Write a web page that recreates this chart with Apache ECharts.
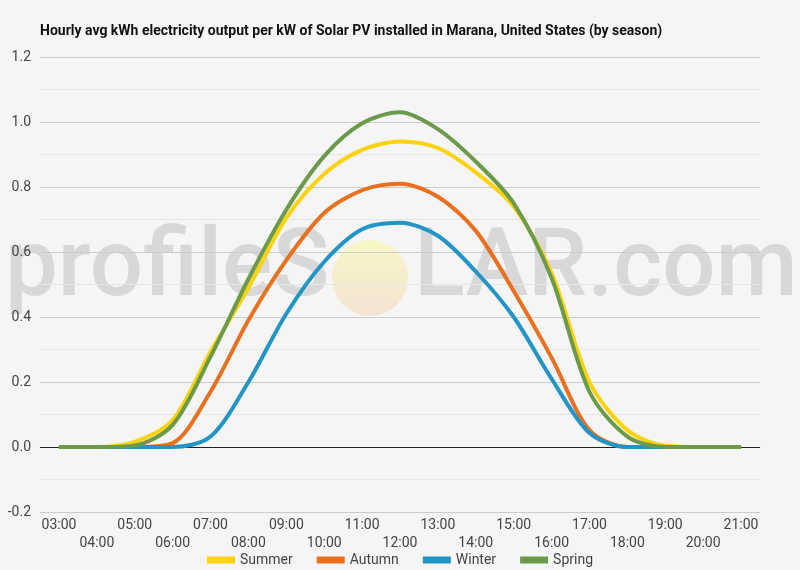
<!DOCTYPE html>
<html>
<head>
<meta charset="utf-8">
<script src="https://cdn.jsdelivr.net/npm/echarts@6/dist/echarts.min.js"></script>
<style>
html, body { margin: 0; padding: 0; background: #f5f5f5; }
#chart { width: 800px; height: 570px; }
</style>
</head>
<body>
<div id="chart"></div>
<script>
// 小时
var hours = ['03:00', '04:00', '05:00', '06:00', '07:00', '08:00', '09:00', '10:00', '11:00', '12:00',
    '13:00', '14:00', '15:00', '16:00', '17:00', '18:00', '19:00', '20:00', '21:00'];
// 各季节每小时平均发电量 (kWh / kW)
var summer = [0, 0, 0.016, 0.083, 0.293, 0.49, 0.705, 0.84, 0.914, 0.94, 0.92, 0.845, 0.74, 0.535, 0.20, 0.052, 0.004, 0, 0];
var autumn = [0, 0, 0, 0.012, 0.17, 0.39, 0.575, 0.72, 0.79, 0.81, 0.77, 0.665, 0.48, 0.275, 0.052, 0, 0, 0, 0];
var winter = [0, 0, 0, 0, 0.032, 0.20, 0.41, 0.57, 0.67, 0.69, 0.65, 0.54, 0.40, 0.21, 0.043, 0, 0, 0, 0];
var spring = [0, 0, 0.005, 0.068, 0.278, 0.517, 0.73, 0.895, 0.996, 1.03, 0.978, 0.878, 0.75, 0.52, 0.17, 0.032, 0, 0, 0];

var seasonNames = ['Summer', 'Autumn', 'Winter', 'Spring'];
var seasonData = [summer, autumn, winter, spring];
var seasonColors = ['#fcd20c', '#e8711f', '#2394c6', '#6b9a4a'];

var chartDom = document.getElementById('chart');
var chart = echarts.init(chartDom);

var series = seasonNames.map(function (name, i) {
    return {
        name: name,
        type: 'line',
        smooth: 0.3,
        symbol: 'none',
        data: seasonData[i],
        lineStyle: { width: 4, color: seasonColors[i] },
        itemStyle: { color: seasonColors[i] },
        z: 3 + i
    };
});
// 0 线
series[0].markLine = {
    silent: true,
    symbol: 'none',
    label: { show: false },
    lineStyle: { color: '#222', width: 1, type: 'solid' },
    data: [{ yAxis: 0 }],
    z: 1
};

var option = {
    backgroundColor: '#f5f5f5',
    animation: false,
    title: {
        text: 'Hourly avg kWh electricity output per kW of Solar PV installed in Marana, United States (by season)',
        left: 35,
        top: 19,
        textStyle: {
            fontFamily: 'Roboto',
            fontSize: 14,
            fontWeight: 'bold',
            color: '#111'
        }
    },
    legend: {
        data: seasonNames,
        top: 548,
        left: 'center',
        itemWidth: 28,
        itemHeight: 7,
        itemGap: 24,
        icon: 'rect',
        textStyle: { fontFamily: 'Roboto', fontSize: 14, color: '#444' }
    },
    graphic: [
        {
            type: 'text',
            z: -1,
            x: 5,
            y: 318,
            style: {
                text: 'profileS',
                font: '500 94px Roboto',
                fill: '#d8d8d8',
                textVerticalAlign: 'bottom'
            }
        },
        {
            type: 'circle',
            z: -1,
            shape: { cx: 370, cy: 278, r: 38 },
            style: {
                fill: new echarts.graphic.LinearGradient(0, 0, 0, 1, [
                    { offset: 0, color: '#f8f6c6' },
                    { offset: 1, color: '#f4e3d3' }
                ])
            }
        },
        {
            type: 'text',
            z: -1,
            x: 414,
            y: 318,
            style: {
                text: 'LAR.com',
                font: '500 94px Roboto',
                fill: '#d8d8d8',
                textVerticalAlign: 'bottom'
            }
        }
    ],
    grid: {
        left: 40,
        right: 40,
        top: 57,
        bottom: 58
    },
    xAxis: {
        type: 'category',
        data: hours,
        boundaryGap: true,
        axisLine: { show: true, lineStyle: { color: '#ccc' } },
        axisTick: { show: false },
        axisLabel: {
            interval: 0,
            margin: 4,
            color: '#444',
            fontFamily: 'Roboto',
            fontSize: 14,
            lineHeight: 18,
            formatter: function (value, index) {
                return index % 2 ? '\n' + value : value;
            }
        }
    },
    yAxis: {
        type: 'value',
        min: -0.2,
        max: 1.2,
        interval: 0.2,
        axisLine: { show: false },
        axisTick: { show: false },
        axisLabel: {
            margin: 9,
            color: '#444',
            fontFamily: 'Roboto',
            fontSize: 14,
            formatter: function (v) { return v.toFixed(1); }
        },
        splitLine: { lineStyle: { color: '#cccccc' } },
        minorTick: { show: false, splitNumber: 2 },
        minorSplitLine: { show: true, lineStyle: { color: '#e6e6e6' } }
    },
    series: series
};
chart.setOption(option);
</script>
</body>
</html>
